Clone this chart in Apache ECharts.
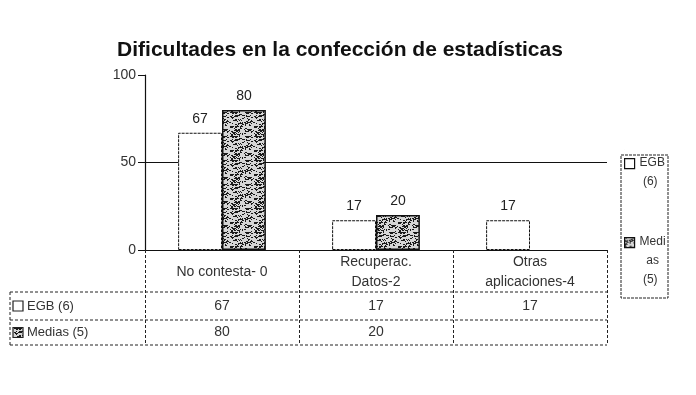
<!DOCTYPE html>
<html><head><meta charset="utf-8">
<script src="https://cdn.jsdelivr.net/npm/echarts@6/dist/echarts.min.js"></script>
<style>html,body{margin:0;padding:0;background:#fff}#c{width:696px;height:395px}</style>
</head><body><div id="c"></div>
<script>
// ---- data ----
const titleText = 'Dificultades en la confección de estadísticas';
const categories = ['No contesta- 0', 'Recuperac. Datos-2', 'Otras aplicaciones-4'];
const categoryLabels = ['No contesta- 0', 'Recuperac.\nDatos-2', 'Otras\naplicaciones-4'];
const seriesNames = ['EGB (6)', 'Medias (5)'];
const legendLabels = ['EGB\n (6)', 'Medi\n  as\n (5)'];
const egbValues = [67, 17, 17];
const mediasValues = [80, 20, null];
const yMin = 0, yMax = 100, yStep = 50;

// ---- speckled pattern for the second series ----
function makePattern() {
  const c = document.createElement('canvas');
  c.width = 24; c.height = 24;
  const g = c.getContext('2d');
  g.fillStyle = '#d6d6d6'; g.fillRect(0, 0, 24, 24);
  let s = 12345;
  const rnd = () => { s = (s * 1103515245 + 12345) & 0x7fffffff; return s / 0x7fffffff; };
  g.fillStyle = '#1a1a1a';
  for (let i = 0; i < 170; i++) {
    const x = Math.floor(rnd() * 24), y = Math.floor(rnd() * 24);
    g.fillRect(x, y, rnd() < 0.5 ? 2 : 1, 1);
  }
  return c;
}
const pat = makePattern();
const medFill = { image: pat, repeat: 'repeat' };

const FONT = 'Liberation Sans';
const chart = echarts.init(document.getElementById('c'), null, { renderer: 'canvas' });

const labelStyle = { show: true, position: 'top', color: '#222', fontFamily: FONT, fontSize: 14, distance: 7 };

chart.setOption({
  animation: false,
  backgroundColor: '#fff',
  title: {
    text: titleText, left: 335, top: 35, textAlign: 'center',
    textStyle: { fontFamily: FONT, fontWeight: 'bold', fontSize: 21, color: '#111' }
  },
  legend: {
    orient: 'vertical', left: 621, top: 149,
    data: [
      { name: seriesNames[0], icon: 'path://M0,9h10v10h-10z M0,0h0.01 M0,46h0.01' },
      { name: seriesNames[1], icon: 'path://M0,0h10v10h-10z M0,46h0.01' }
    ],
    itemWidth: 10, itemHeight: 46, itemGap: 36, itemStyle: { borderWidth: 1.2 },
    padding: [0, 2, 0, 3],
    formatter: n => legendLabels[seriesNames.indexOf(n)],
    textStyle: { fontFamily: FONT, fontSize: 12, color: '#333', lineHeight: 19 }
  },
  grid: { left: 145, right: 89, top: 75, bottom: 145 },
  xAxis: {
    type: 'category', data: categories,
    axisLine: { lineStyle: { color: '#111', width: 1.2 } },
    axisTick: { show: true, interval: 0, length: 95, lineStyle: { color: '#222', type: [3, 2] } },
    axisLabel: {
      interval: 0, margin: 22, verticalAlign: 'middle', lineHeight: 20,
      color: '#333', fontFamily: FONT, fontSize: 14,
      formatter: (v, i) => categoryLabels[i]
    }
  },
  yAxis: {
    type: 'value', min: yMin, max: yMax, interval: yStep,
    axisLine: { show: true, lineStyle: { color: '#111', width: 1.2 } },
    axisTick: { show: true, length: 7, lineStyle: { color: '#111' } },
    axisLabel: { color: '#333', fontFamily: FONT, fontSize: 14, margin: 9 },
    splitLine: { show: true, lineStyle: { color: ['rgba(0,0,0,0)', '#111', 'rgba(0,0,0,0)'], width: 1.2 } }
  },
  series: [
    {
      name: seriesNames[0], type: 'bar', data: egbValues,
      barGap: '0%', barCategoryGap: '43%',
      itemStyle: { color: '#fff', borderColor: '#111', borderWidth: 1, borderType: [3, 1] },
      label: labelStyle
    },
    {
      name: seriesNames[1], type: 'bar', data: mediasValues,
      itemStyle: { color: medFill, borderColor: '#111', borderWidth: 1.5 },
      label: labelStyle
    }
  ]
});

// ---- data table under the axis + legend frame, positioned from the axis scale ----
function buildTable() {
  const c0 = chart.convertToPixel({ xAxisIndex: 0 }, categories[0]);
  const c1 = chart.convertToPixel({ xAxisIndex: 0 }, categories[1]);
  const w = c1 - c0;
  const y0 = chart.convertToPixel({ yAxisIndex: 0 }, yMin);
  const leftEdge = c0 - w / 2;
  const rightEdge = leftEdge + w * categories.length;
  const headX = 10;
  const rowTop = [y0 + 42, y0 + 70];
  const rowBottom = y0 + 95;
  const ls = { stroke: '#222', lineWidth: 1, lineDash: [3, 2] };
  const els = [];
  // legend frame
  els.push({ type: 'rect', shape: { x: rightEdge + 14, y: 155, width: 47, height: 143 },
    style: { fill: 'none', stroke: '#222', lineWidth: 1, lineDash: [3, 1] }, silent: true, z: -1 });
  [rowTop[0], rowTop[1], rowBottom].forEach(y => {
    els.push({ type: 'line', shape: { x1: headX, y1: y, x2: rightEdge, y2: y }, style: ls, silent: true });
  });
  els.push({ type: 'line', shape: { x1: headX, y1: rowTop[0], x2: headX, y2: rowBottom }, style: ls, silent: true });
  const rows = [egbValues, mediasValues];
  rows.forEach((vals, r) => {
    const yc = r === 0 ? (rowTop[0] + rowTop[1]) / 2 : (rowTop[1] + rowBottom) / 2;
    els.push({
      type: 'rect', shape: { x: headX + 3, y: yc - 5, width: 10, height: 10 },
      style: r === 0 ? { fill: '#fff', stroke: '#222', lineWidth: 1.2 } : { fill: medFill, stroke: '#222', lineWidth: 1.2 },
      silent: true
    });
    els.push({
      type: 'text', style: { text: seriesNames[r], x: headX + 17, y: yc, verticalAlign: 'middle',
        font: '13px "' + FONT + '"', fill: '#333' }, silent: true
    });
    vals.forEach((v, i) => {
      if (v == null) return;
      const x = chart.convertToPixel({ xAxisIndex: 0 }, categories[i]);
      els.push({
        type: 'text', style: { text: String(v), x: x, y: yc, align: 'center', verticalAlign: 'middle',
          font: '14px "' + FONT + '"', fill: '#333' }, silent: true
      });
    });
  });
  chart.setOption({ graphic: { elements: els } });
}
buildTable();
</script>
</body></html>
